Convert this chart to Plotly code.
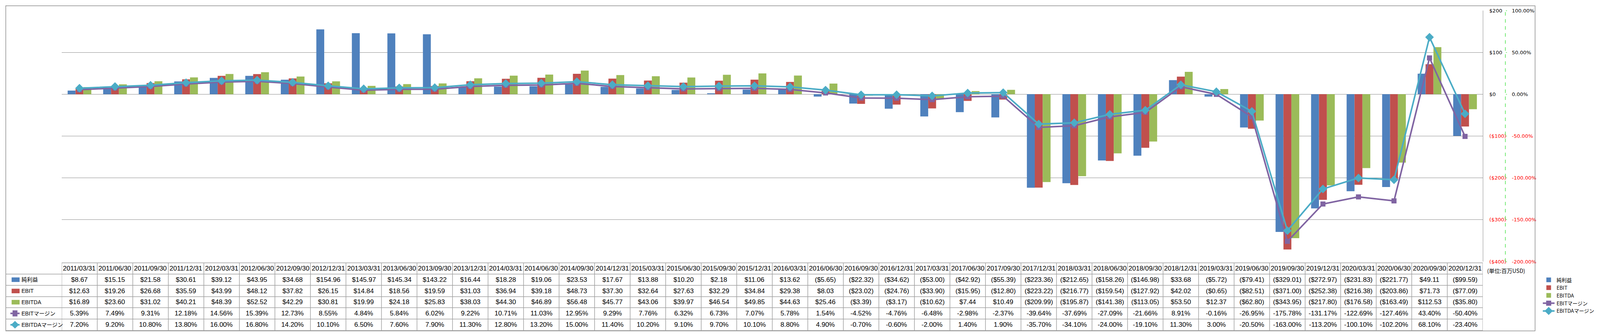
import plotly.graph_objects as go

# ---------------- data ----------------
quarters = [
    "2011/03/31", "2011/06/30", "2011/09/30", "2011/12/31",
    "2012/03/31", "2012/06/30", "2012/09/30", "2012/12/31",
    "2013/03/31", "2013/06/30", "2013/09/30", "2013/12/31",
    "2014/03/31", "2014/06/30", "2014/09/30", "2014/12/31",
    "2015/03/31", "2015/06/30", "2015/09/30", "2015/12/31",
    "2016/03/31", "2016/06/30", "2016/09/30", "2016/12/31",
    "2017/03/31", "2017/06/30", "2017/09/30", "2017/12/31",
    "2018/03/31", "2018/06/30", "2018/09/30", "2018/12/31",
    "2019/03/31", "2019/06/30", "2019/09/30", "2019/12/31",
    "2020/03/31", "2020/06/30", "2020/09/30", "2020/12/31",
]
net_income = [
    8.67, 15.15, 21.58, 30.61, 39.12, 43.95, 34.68, 154.96, 145.97, 145.34,
    143.22, 16.44, 18.28, 19.06, 23.53, 17.67, 13.88, 10.20, 2.18, 11.06,
    13.62, -5.65, -22.32, -34.62, -53.00, -42.92, -55.39, -223.36, -212.65, -158.26,
    -146.98, 33.68, -5.72, -79.41, -329.01, -272.97, -231.83, -221.77, 49.11, -99.59,
]
ebit = [
    12.63, 19.26, 26.68, 35.59, 43.99, 48.12, 37.82, 26.15, 14.84, 18.56,
    19.59, 31.03, 36.94, 39.18, 48.73, 37.30, 32.64, 27.63, 32.29, 34.84,
    29.38, 8.03, -23.02, -24.76, -33.90, -15.95, -12.80, -223.22, -216.77, -159.54,
    -127.92, 42.02, -0.65, -82.51, -371.00, -252.38, -216.38, -203.86, 71.73, -77.09,
]
ebitda = [
    16.89, 23.60, 31.02, 40.21, 48.39, 52.52, 42.29, 30.81, 19.99, 24.18,
    25.83, 38.03, 44.30, 46.89, 56.48, 45.77, 43.06, 39.97, 46.54, 49.85,
    44.63, 25.46, -3.39, -3.17, -10.62, 7.44, 10.49, -209.99, -195.87, -141.38,
    -113.05, 53.50, 12.37, -62.80, -343.95, -217.80, -176.58, -163.49, 112.53, -35.80,
]
ebit_margin = [
    5.39, 7.49, 9.31, 12.18, 14.56, 15.39, 12.73, 8.55, 4.84, 5.84,
    6.02, 9.22, 10.71, 11.03, 12.95, 9.29, 7.76, 6.32, 6.73, 7.07,
    5.78, 1.54, -4.52, -4.76, -6.48, -2.98, -2.37, -39.64, -37.69, -27.09,
    -21.66, 8.91, -0.16, -26.95, -175.78, -131.17, -122.69, -127.46, 43.40, -50.40,
]
ebitda_margin = [
    7.20, 9.20, 10.80, 13.80, 16.00, 16.80, 14.20, 10.10, 6.50, 7.60,
    7.90, 11.30, 12.80, 13.20, 15.00, 11.40, 10.20, 9.10, 9.70, 10.10,
    8.80, 4.90, -0.70, -0.60, -2.00, 1.40, 1.90, -35.70, -34.10, -24.00,
    -19.10, 11.30, 3.00, -20.50, -163.00, -113.20, -100.10, -102.20, 68.10, -23.40,
]
money_ticks = [200, 100, 0, -100, -200, -300, -400]
pct_ticks = [100, 50, 0, -50, -100, -150, -200]
series_names = ["純利益", "EBIT", "EBITDA", "EBITマージン", "EBITDAマージン"]
unit_label = "(単位:百万USD)"

# ---------------- styling ----------------
C_BLUE, C_RED, C_GREEN = "#4F81BD", "#C0504D", "#9BBB59"
C_PURPLE, C_CYAN = "#8064A2", "#4BACC6"
GRID = "#8C8C8C"
TBL_LINE = "#A0A0A0"
NEG = "#FF0000"
TABLE_FONT = "Liberation Sans, Noto Sans CJK JP, sans-serif"
LABEL_FONT = "Liberation Sans, Noto Sans CJK JP, sans-serif"
AXIS_FONT = "DejaVu Sans, Verdana, sans-serif"
CJK_FONT = "Noto Sans CJK JP, sans-serif"

# The browser viewport is 4096 px wide and the page body has an 8 px margin,
# so the layout is designed in reference-pixel units and mapped onto the figure.
VIEW_W, VIEW_H, BODY = 4096, 858, 8
REF_W, REF_H = 4981, 858
W, H = VIEW_W - 2 * BODY, VIEW_H - 2 * BODY
SX, SY = W / REF_W, H / REF_H


def X(ref):
    return ref * SX


def Y(ref):
    return ref * SY


L = round(X(183))
PAPER_R = round(X(4883))
T = round(Y(13))
B = round(Y(675))
PW, PH = PAPER_R - L, B - T


def fx(ref):
    return (X(ref) - L) / PW


def fy(ref):
    return (B - Y(ref)) / PH


def money(v):
    return f"${v:,.2f}" if v >= 0 else f"(${-v:,.2f})"


def pct(v):
    return f"{v:.2f}%"


def money_tick(v):
    s = f"${v:.0f}" if v >= 0 else f"(${-v:.0f})"
    return s if v >= 0 else f"<span style='color:{NEG}'>{s}</span>"


def pct_tick(v):
    s = f"{v:.2f}%"
    return s if v >= 0 else f"<span style='color:{NEG}'>{s}</span>"


fig = go.Figure()
bar_cols = [C_BLUE, C_RED, C_GREEN]
for name, vals, col in zip(series_names[:3], [net_income, ebit, ebitda], bar_cols):
    fig.add_trace(go.Bar(x=quarters, y=vals, name=name, legendgroup=name,
                         marker=dict(color=col, line=dict(width=0))))

fig.add_trace(go.Scatter(x=quarters, y=ebit_margin, name=series_names[3], legendgroup=series_names[3],
                         yaxis="y2", mode="lines+markers",
                         line=dict(color=C_PURPLE, width=4),
                         marker=dict(symbol="square", size=13, color=C_PURPLE)))
fig.add_trace(go.Scatter(x=quarters, y=ebitda_margin, name=series_names[4], legendgroup=series_names[4],
                         yaxis="y2", mode="lines+markers",
                         line=dict(color=C_CYAN, width=4),
                         marker=dict(symbol="diamond", size=17, color=C_CYAN)))

# ---------------- data table ----------------
row_edges = [678, 707.5, 737, 767, 796, 826, 856]
row_centers = [(a + b) / 2 for a, b in zip(row_edges[:-1], row_edges[1:])]
TSIZE = 17
annotations = []
for q in quarters:
    annotations.append(dict(x=q, xref="x", y=fy(row_centers[0]), yref="paper", text=q,
                            showarrow=False, xanchor="center", yanchor="middle",
                            font=dict(family=TABLE_FONT, size=TSIZE, color="black")))
rows = [
    [money(v) for v in net_income],
    [money(v) for v in ebit],
    [money(v) for v in ebitda],
    [pct(v) for v in ebit_margin],
    [pct(v) for v in ebitda_margin],
]
for r, (name, texts) in enumerate(zip(series_names, rows)):
    yc = fy(row_centers[r + 1])
    annotations.append(dict(x=fx(49), xref="paper", y=yc, yref="paper", text=name,
                            showarrow=False, xanchor="left", yanchor="middle",
                            font=dict(family=LABEL_FONT, size=14, color="black")))
    for q, t in zip(quarters, texts):
        annotations.append(dict(x=q, xref="x", y=yc, yref="paper", text=t,
                                showarrow=False, xanchor="center", yanchor="middle",
                                font=dict(family=TABLE_FONT, size=TSIZE, color="black")))

annotations.append(dict(x=fx(4822), xref="paper", y=fy(698), yref="paper",
                        text=unit_label, showarrow=False, xanchor="left", yanchor="middle",
                        font=dict(family=CJK_FONT, size=14, color="black")))

shapes = []
# outer border along the figure edges
shapes.append(dict(type="rect", xref="paper", yref="paper",
                   x0=(0.75 - L) / PW, x1=(W - 0.75 - L) / PW,
                   y0=(B - 0.75) / PH, y1=(B - H + 0.75) / PH,
                   line=dict(color="#8C8C8C", width=1.5), fillcolor="rgba(0,0,0,0)", layer="above"))
# table rules
shapes.append(dict(type="line", xref="paper", yref="paper", x0=fx(183), x1=fx(4810),
                   y0=fy(row_edges[0]), y1=fy(row_edges[0]), line=dict(color=TBL_LINE, width=1.5)))
for e in row_edges[1:]:
    shapes.append(dict(type="line", xref="paper", yref="paper", x0=fx(0), x1=fx(4810),
                       y0=fy(e), y1=fy(e), line=dict(color=TBL_LINE, width=1.5)))
for i in range(len(quarters) + 1):
    shapes.append(dict(type="line", xref="x", yref="paper", x0=i - 0.5, x1=i - 0.5,
                       y0=fy(row_edges[0]), y1=fy(row_edges[-1]), line=dict(color=TBL_LINE, width=1.5)))
# secondary axis dashed line
shapes.append(dict(type="line", xref="paper", yref="paper", x0=1, x1=1, y0=0, y1=1,
                   line=dict(color="#22DD22", width=1.2, dash="dash")))

# legend keys in the table's label column
for r, col in enumerate(bar_cols):
    yc = row_centers[r + 1]
    shapes.append(dict(type="rect", xref="paper", yref="paper", x0=fx(20), x1=fx(46),
                       y0=fy(yc - 6), y1=fy(yc + 6), line=dict(width=0), fillcolor=col))
yc = row_centers[4]
shapes.append(dict(type="line", xref="paper", yref="paper", x0=fx(16), x1=fx(46), y0=fy(yc), y1=fy(yc),
                   line=dict(color=C_PURPLE, width=4)))
shapes.append(dict(type="rect", xref="paper", yref="paper", x0=fx(23), x1=fx(39),
                   y0=fy(yc - 8), y1=fy(yc + 8), line=dict(width=0), fillcolor=C_PURPLE))
yc = row_centers[5]
shapes.append(dict(type="line", xref="paper", yref="paper", x0=fx(16), x1=fx(46), y0=fy(yc), y1=fy(yc),
                   line=dict(color=C_CYAN, width=4)))
shapes.append(dict(type="path", xref="paper", yref="paper",
                   path=f"M{fx(31)},{fy(yc - 10)} L{fx(44)},{fy(yc)} L{fx(31)},{fy(yc + 10)} L{fx(18)},{fy(yc)} Z",
                   line=dict(width=0), fillcolor=C_CYAN))

LEG_FONT = 13
leg_item_h = LEG_FONT * 1.3 + 3
leg_top = Y(row_centers[1]) - 5 - leg_item_h / 2
fig.update_layout(
    width=W, height=H,
    margin=dict(l=L, r=W - PAPER_R, t=T, b=H - B, pad=0),
    paper_bgcolor="white", plot_bgcolor="white",
    barmode="group", bargap=1 / 3, bargroupgap=0,
    showlegend=True,
    legend=dict(xref="container", yref="container", x=X(4806) / W, y=1 - leg_top / H,
                xanchor="left", yanchor="top", traceorder="grouped", tracegroupgap=0,
                font=dict(family=CJK_FONT, size=LEG_FONT, color="black"),
                bgcolor="rgba(0,0,0,0)", borderwidth=0, itemwidth=30),
    xaxis=dict(type="category", range=[-0.5, len(quarters) - 0.5], domain=[0, fx(4810)],
               showticklabels=False, showgrid=False, zeroline=False, showline=False, ticks=""),
    yaxis=dict(range=[-400, 200], tickvals=money_ticks, ticktext=[money_tick(v) for v in money_ticks],
               side="right", showgrid=True, gridcolor=GRID, gridwidth=1, zeroline=False,
               showline=True, linecolor=GRID, linewidth=1, ticks="", ticklabelstandoff=13,
               tickfont=dict(family=AXIS_FONT, size=13, color="black")),
    yaxis2=dict(range=[-200, 100], tickvals=pct_ticks, ticktext=[pct_tick(v) for v in pct_ticks],
                overlaying="y", side="right", anchor="free", position=1,
                showgrid=False, zeroline=False, showline=False, ticks="outside", ticklen=3,
                tickcolor="#22DD22", tickwidth=1, ticklabelstandoff=10,
                tickfont=dict(family=AXIS_FONT, size=13, color="black")),
    annotations=annotations,
    shapes=shapes,
)

fig.write_html("out.html")
